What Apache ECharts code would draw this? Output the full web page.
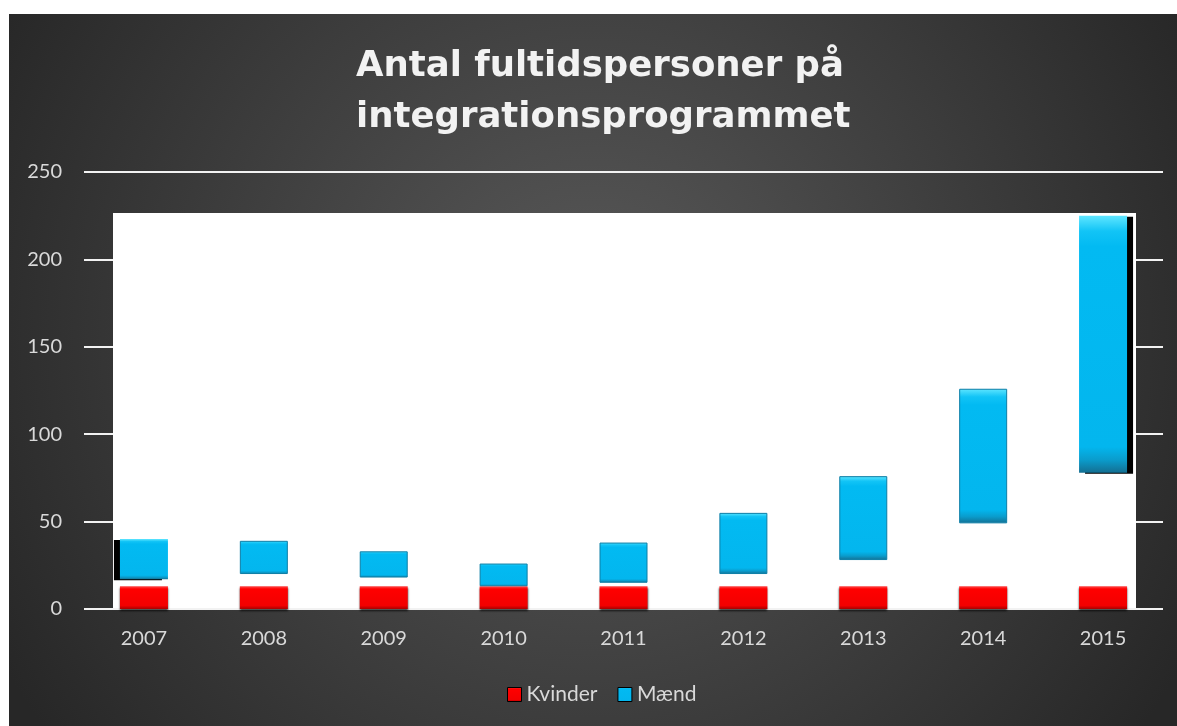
<!DOCTYPE html>
<html>
<head>
<meta charset="utf-8">
<script src="https://cdn.jsdelivr.net/npm/echarts@6/dist/echarts.min.js"></script>
<style>
html,body{margin:0;padding:0;background:#fff;}
#c{width:1177px;height:726px;}
</style>
</head>
<body>
<div id="c"></div>
<script>
const years = ['2007','2008','2009','2010','2011','2012','2013','2014','2015'];
const kvinder = [13,13,13,13,13,13,13,13,13];
const maendBund = [17,20,18,13,15,20,28,49,78];
const maendTop = [40,39,33,26,38,55,76,126,225];
const yTicks = [0,50,100,150,200,250];

const chart = echarts.init(document.getElementById('c'));

const redGrad = new echarts.graphic.LinearGradient(0,0,0,1,[
  {offset:0,color:'#ff4a4a'},{offset:0.12,color:'#ff0000'},
  {offset:0.85,color:'#f20000'},{offset:1,color:'#a80000'}]);
const blueGrad = new echarts.graphic.LinearGradient(0,0,0,1,[
  {offset:0,color:'#5fe6ff'},{offset:0.06,color:'#12c4f6'},
  {offset:0.12,color:'#02baf2'},{offset:0.9,color:'#03b6ee'},
  {offset:0.95,color:'#0a9ccc'},{offset:1,color:'#146f92'}]);

const maendData = maendTop.map((t,i)=>{
  const d = {value: t - maendBund[i]};
  if (i === 0) d.itemStyle = {borderWidth:0, shadowColor:'#000', shadowOffsetX:-6, shadowOffsetY:1, shadowBlur:0};
  if (i === maendTop.length-1) d.itemStyle = {borderWidth:0, shadowColor:'#000', shadowOffsetX:6, shadowOffsetY:1, shadowBlur:0};
  return d;
});

const option = {
  backgroundColor:'#ffffff',
  animation:false,
  textStyle:{fontFamily:'Lato'},
  graphic:[
    {type:'rect', silent:true, z:-20, shape:{x:9,y:14,width:1168,height:712},
     style:{fill:new echarts.graphic.RadialGradient(0.5,0.45,0.95,[
       {offset:0,color:'#5a5a5a'},{offset:1,color:'#272727'}])}},
    {type:'rect', silent:true, z:1, shape:{x:113,y:213,width:1023,height:395},
     style:{fill:'#ffffff'}}
  ],
  title:{
    text:'Antal fultidspersoner på\nintegrationsprogrammet',
    left:351, top:36,
    textStyle:{color:'#f2f2f2', fontSize:35.5, fontWeight:'bold', fontFamily:'DejaVu Sans', lineHeight:51}
  },
  legend:{
    data:['Kvinder','Mænd'],
    left:502, top:679,
    itemWidth:14, itemHeight:14, itemGap:20,
    icon:'rect',
    itemStyle:{borderColor:'#000', borderWidth:1},
    textStyle:{color:'#d9d9d9', fontSize:21, fontFamily:'Lato'}
  },
  grid:{left:84, right:14, top:172, bottom:117},
  xAxis:{
    type:'category', data:years,
    axisLine:{show:false}, axisTick:{show:false},
    axisLabel:{color:'#d9d9d9', fontSize:20, margin:20, fontFamily:'Lato'}
  },
  yAxis:{
    type:'value', min:yTicks[0], max:yTicks[yTicks.length-1], interval:50,
    axisLine:{show:false}, axisTick:{show:false},
    splitLine:{lineStyle:{color:'#f2f2f2', width:2}},
    axisLabel:{color:'#d9d9d9', fontSize:20, margin:22, fontFamily:'Lato'}
  },
  series:[
    {name:'Kvinder', type:'bar', data:kvinder, barWidth:48, barGap:'-100%', z:3,
     itemStyle:{color:redGrad, shadowColor:'rgba(0,0,0,0.7)', shadowOffsetY:2, shadowBlur:2}},
    {name:'base', type:'bar', stack:'m', data:maendBund, barWidth:48, barGap:'-100%', silent:true,
     itemStyle:{color:'rgba(0,0,0,0)'}},
    {name:'Mænd', type:'bar', stack:'m', data:maendData, barWidth:48, barGap:'-100%', z:4,
     itemStyle:{color:blueGrad, borderColor:'#0d7ea6', borderWidth:1}}
  ]
};
chart.setOption(option);
</script>
</body>
</html>
